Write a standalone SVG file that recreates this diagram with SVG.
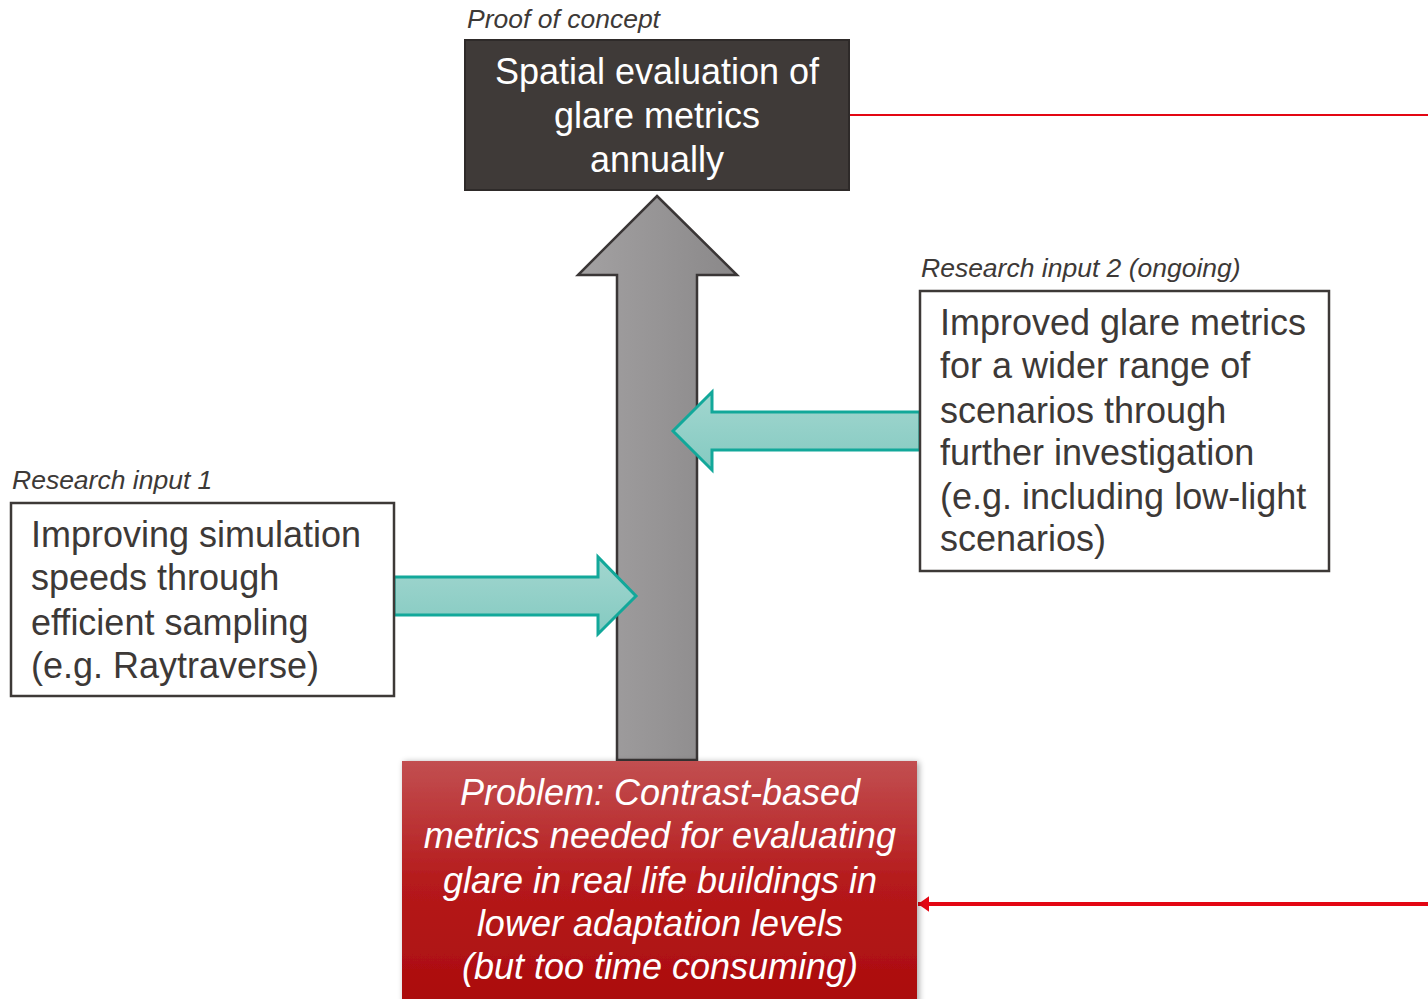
<svg xmlns="http://www.w3.org/2000/svg" width="1428" height="999" viewBox="0 0 1428 999">
<defs>
<linearGradient id="gray" x1="0" y1="0" x2="1" y2="0">
<stop offset="0" stop-color="#a3a1a2"/><stop offset="1" stop-color="#8a8889"/>
</linearGradient>
<linearGradient id="teal" x1="0" y1="0" x2="0" y2="1">
<stop offset="0" stop-color="#a2d6cf"/><stop offset="1" stop-color="#84cac1"/>
</linearGradient>
<linearGradient id="red" x1="0" y1="0" x2="0" y2="1">
<stop offset="0" stop-color="#c24f51"/><stop offset="0.5" stop-color="#b51a1b"/><stop offset="1" stop-color="#ab0c0d"/>
</linearGradient>
<filter id="sh" x="-5%" y="-5%" width="115%" height="115%">
<feGaussianBlur in="SourceAlpha" stdDeviation="3"/>
<feOffset dx="2" dy="1"/>
<feComponentTransfer><feFuncA type="linear" slope="0.35"/></feComponentTransfer>
<feMerge><feMergeNode/><feMergeNode in="SourceGraphic"/></feMerge>
</filter>
<marker id="ah" viewBox="0 0 10 14" refX="0" refY="7" markerWidth="2.8" markerHeight="4" orient="auto" markerUnits="strokeWidth">
<path d="M10,0 L0,7 L10,14 Z" fill="#e30613"/>
</marker>
</defs>
<style>
.t{font-family:"Liberation Sans",Arial,sans-serif;}
.lbl{font-size:26.5px;font-style:italic;fill:#3d3937;}
.body{font-size:36px;fill:#3d3937;}
.box{fill:#ffffff;stroke:#3d3937;stroke-width:2.5;}
.tealA{fill:url(#teal);stroke:#12a89a;stroke-width:3;stroke-linejoin:miter;}
.red{stroke:#e30613;fill:none;}
</style>
<rect width="1428" height="999" fill="#ffffff"/>
<g id="connectors">
<line class="red" x1="849" y1="115" x2="1428" y2="115" stroke-width="2"/>
<line class="red" x1="918" y1="904" x2="1428" y2="904" stroke-width="4" marker-start="url(#ah)"/>
</g>
<g id="big-arrow">
<path d="M657,196 L737,275 L697,275 L697,760 L617,760 L617,275 L578,275 Z" fill="url(#gray)" stroke="#3a3636" stroke-width="2.5" stroke-linejoin="miter"/>
</g>
<g id="teal-arrow-1">
<path class="tealA" d="M394,577 L598,577 L598,557 L636,596 L598,634 L598,615 L394,615 Z"/>
</g>
<g id="teal-arrow-2">
<path class="tealA" d="M920,412 L712,412 L712,392 L673,431 L712,470 L712,450 L920,450 Z"/>
</g>
<g id="proof">
<text class="t lbl" x="467" y="28">Proof of concept</text>
<rect x="465" y="40" width="384" height="150" fill="#3f3a38" stroke="#2e2a29" stroke-width="2"/>
<text class="t" font-size="36" fill="#ffffff" text-anchor="middle" x="657" y="84">Spatial evaluation of</text>
<text class="t" font-size="36" fill="#ffffff" text-anchor="middle" x="657" y="128">glare metrics</text>
<text class="t" font-size="36" fill="#ffffff" text-anchor="middle" x="657" y="172">annually</text>
</g>
<g id="input1">
<text class="t lbl" x="12" y="489">Research input 1</text>
<rect class="box" x="11" y="503" width="383" height="193"/>
<text class="t body" x="31" y="547">Improving simulation</text>
<text class="t body" x="31" y="590">speeds through</text>
<text class="t body" x="31" y="635">efficient sampling</text>
<text class="t body" x="31" y="678">(e.g. Raytraverse)</text>
</g>
<g id="input2">
<text class="t lbl" x="921" y="277">Research input 2 (ongoing)</text>
<rect class="box" x="920" y="291" width="409" height="280"/>
<text class="t body" x="940" y="335">Improved glare metrics</text>
<text class="t body" x="940" y="378">for a wider range of</text>
<text class="t body" x="940" y="423">scenarios through</text>
<text class="t body" x="940" y="465">further investigation</text>
<text class="t body" x="940" y="509">(e.g. including low-light</text>
<text class="t body" x="940" y="551">scenarios)</text>
</g>
<g id="problem">
<rect x="402" y="761" width="515" height="245" fill="url(#red)" filter="url(#sh)"/>
<g class="t" font-size="36" font-style="italic" fill="#ffffff" text-anchor="middle">
<text x="660" y="805">Problem: Contrast-based</text>
<text x="660" y="848">metrics needed for evaluating</text>
<text x="660" y="893">glare in real life buildings in</text>
<text x="660" y="936">lower adaptation levels</text>
<text x="660" y="979">(but too time consuming)</text>
</g>
</g>
</svg>
